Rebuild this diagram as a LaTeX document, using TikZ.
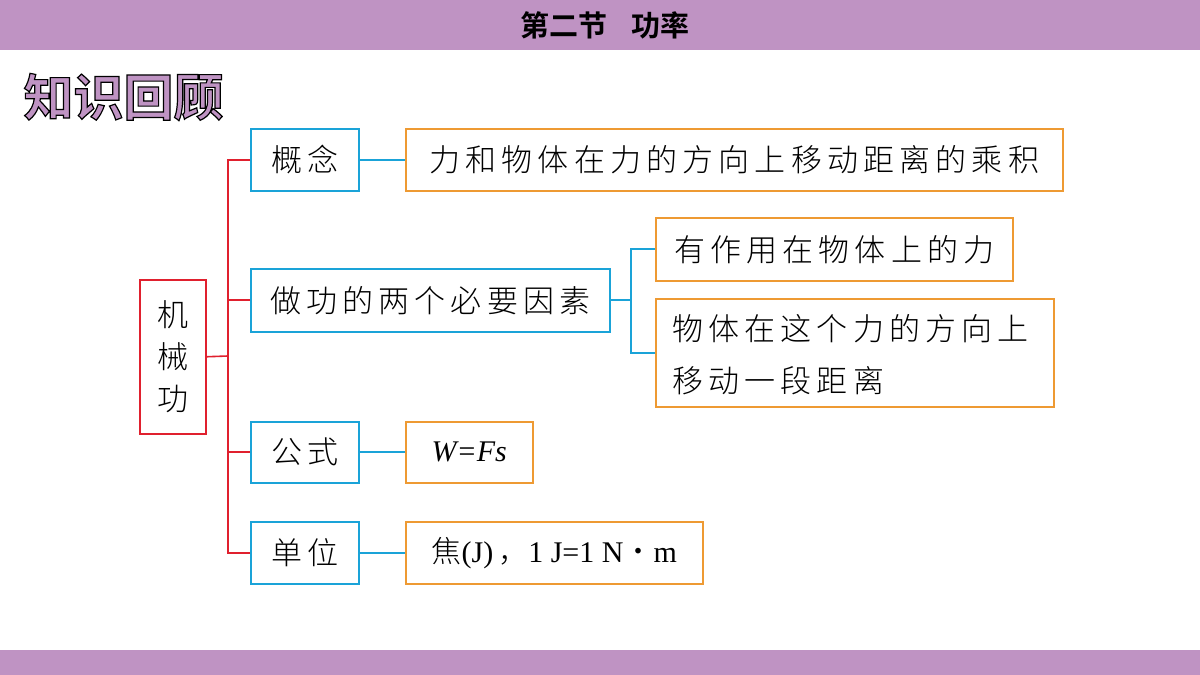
\documentclass[tikz,border=0pt]{standalone}
\usepackage{fontspec}
\setmainfont{Liberation Serif}
\newfontfamily\cjk{Noto Sans CJK SC}
\newfontfamily\cjkl{Noto Sans CJK SC Light}
\newfontfamily\cjkb{Noto Sans CJK SC Bold}
\definecolor{bar}{HTML}{BF93C3}
\definecolor{rd}{HTML}{E0202E}
\definecolor{bl}{HTML}{1AA3D8}
\definecolor{og}{HTML}{EE9A33}
\begin{document}
\begin{tikzpicture}[x=1pt,y=-1pt,
  bx/.style={draw=#1,line width=1.5pt,anchor=north west,inner sep=0},
  tx/.style={font=\fontsize{31}{36}\selectfont\cjkl},
  rl/.style={draw=rd,line width=1.6pt},
  bll/.style={draw=bl,line width=1.6pt}]
\useasboundingbox (0,0) rectangle (1200,675);
\fill[bar] (0,0) rectangle (1200,50);
\fill[bar] (0,650) rectangle (1200,675);
\node[font=\fontsize{29}{32}\selectfont\cjkb] (t) at (605,25) {第二节\hspace{0.8em}功率};
\node[anchor=west,font=\fontsize{50}{54}\selectfont\cjkb] (k) at (20,97) {\color{bar}\special{pdf:literal direct 2 Tr 1.2 w 0 0 0 RG}知识回顾\special{pdf:literal direct 0 Tr}};
\node[bx=rd,minimum width=66,minimum height=154] (j) at (139,279) {};
\node[align=center,font=\fontsize{31}{42}\selectfont\cjkl] at (j.center) {机\\械\\功};
\node[bx=bl,minimum width=108,minimum height=62] (a) at (250,128) {};
\node[tx] at (a.center) {概\,念};
\node[bx=bl,minimum width=359,minimum height=63] (b) at (250,268) {};
\node[tx] at (b.center) {做\,功\,的\,两\,个\,必\,要\,因\,素};
\node[bx=bl,minimum width=108,minimum height=61] (c) at (250,421) {};
\node[tx] at (c.center) {公\,式};
\node[bx=bl,minimum width=108,minimum height=62] (d) at (250,521) {};
\node[tx] at (d.center) {单\,位};
\node[bx=og,minimum width=657,minimum height=62] (a2) at (405,128) {};
\node[tx] at (a2.center) {力\,和\,物\,体\,在\,力\,的\,方\,向\,上\,移\,动\,距\,离\,的\,乘\,积};
\node[bx=og,minimum width=357,minimum height=63] (b1) at (655,217) {};
\node[tx] at (b1.center) {有\,作\,用\,在\,物\,体\,上\,的\,力};
\node[bx=og,minimum width=398,minimum height=108] (b2) at (655,298) {};
\node[anchor=west,align=left,inner sep=0,font=\fontsize{31}{52}\selectfont\cjkl] at (672,355) {物\,体\,在\,这\,个\,力\,的\,方\,向\,上\\移\,动\,一\,段\,距\,离};
\node[bx=og,minimum width=127,minimum height=61] (c2) at (405,421) {};
\node[font=\fontsize{30}{32}\selectfont\itshape] at (c2.center) {W=Fs};
\node[bx=og,minimum width=297,minimum height=62] (d2) at (405,521) {};
\node[font=\fontsize{30}{32}\selectfont] at (d2.center) {{\cjkl 焦}(J)\,{\cjkl ，}1 J=1 N{\cjkl ·}m};
\coordinate (r) at (228,356);
\draw[rl] (j.east) -- (r);
\draw[rl] (a.west) -| (r);
\draw[rl] (b.west) -| (r);
\draw[rl] (c.west) -| (r);
\draw[rl] (d.west) -| (r);
\draw[bll] (a) -- (a2);
\draw[bll] (c) -- (c2);
\draw[bll] (d) -- (d2);
\coordinate (s) at (631,300);
\draw[bll] (b) -- (s);
\draw[bll] (b1.west) -| (s);
\draw[bll] (b2.west) -| (s);
\end{tikzpicture}
\end{document}
